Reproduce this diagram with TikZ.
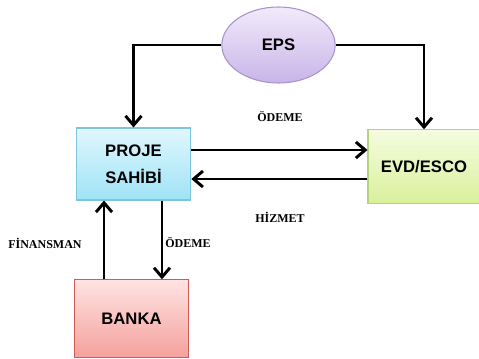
\documentclass[tikz,border=0pt]{standalone}
\usepackage{fontspec}
\setmainfont{Liberation Serif}
\setsansfont{Liberation Sans}
\usetikzlibrary{shapes.geometric,arrows.meta}

\definecolor{projetop}{HTML}{E0F7FD}
\definecolor{projebot}{HTML}{9FE3F6}
\definecolor{projeline}{HTML}{7CC6DC}
\definecolor{evdtop}{HTML}{F5FCE0}
\definecolor{evdbot}{HTML}{D9F09C}
\definecolor{evdline}{HTML}{B5D47A}
\definecolor{bankatop}{HTML}{FEE3E2}
\definecolor{bankabot}{HTML}{F5A19D}
\definecolor{bankaline}{HTML}{D05A55}
\definecolor{epstop}{HTML}{F2EAFB}
\definecolor{epsbot}{HTML}{C8B5E8}
\definecolor{epsline}{HTML}{A894CC}

\begin{document}
\begin{tikzpicture}[
      x=0.75pt, y=-0.75pt,
      party/.style={rectangle, draw, line width=0.8pt, align=center,
        minimum width=86pt, minimum height=54pt,
        font=\sffamily\bfseries\fontsize{12.5}{20}\selectfont},
      flow/.style={draw, line width=2.2pt, -{Straight Barb[length=7pt,width=12pt]}},
      flowtext/.style={font=\rmfamily\bfseries\fontsize{9}{10}\selectfont}
    ]
    \useasboundingbox (0,0) rectangle (479,358);

    % actors
    \node (eps) [ellipse, draw=epsline, line width=0.8pt, top color=epstop, bottom color=epsbot,
        minimum width=85pt, minimum height=57pt,
        font=\sffamily\bfseries\fontsize{12.5}{14}\selectfont] at (278.5,45) {EPS};
    \node (proje) [party, draw=projeline, top color=projetop, bottom color=projebot] at (133.5,164) {PROJE\\SAHİBİ};
    \node (evd) [party, draw=evdline, top color=evdtop, bottom color=evdbot, minimum width=84pt, minimum height=55pt] at (424,166.5) {EVD/ESCO};
    \node (banka) [party, draw=bankaline, top color=bankatop, bottom color=bankabot, minimum width=85pt, minimum height=58pt] at (131.5,318.5) {BANKA};

    % flows
    \draw[flow] (eps.west) -| (proje.north);
    \draw[flow] (eps.east) -| (evd.north);
    \draw[flow] (proje.east |- 0,150) -- (evd.west |- 0,150);
    \draw[flow] (evd.west |- 0,179) -- (proje.east |- 0,179);
    \draw[flow] (banka.north -| 104,0) -- (proje.south -| 104,0);
    \draw[flow] (proje.south -| 162,0) -- (banka.north -| 162,0);

    % labels
    \node (odemeust) [flowtext] at (280,117) {ÖDEME};
    \node (hizmet) [flowtext] at (280,217) {HİZMET};
    \node (finansman) [flowtext] at (45,243) {FİNANSMAN};
    \node (odemealt) [flowtext] at (188,243) {ÖDEME};

\end{tikzpicture}
\end{document}
